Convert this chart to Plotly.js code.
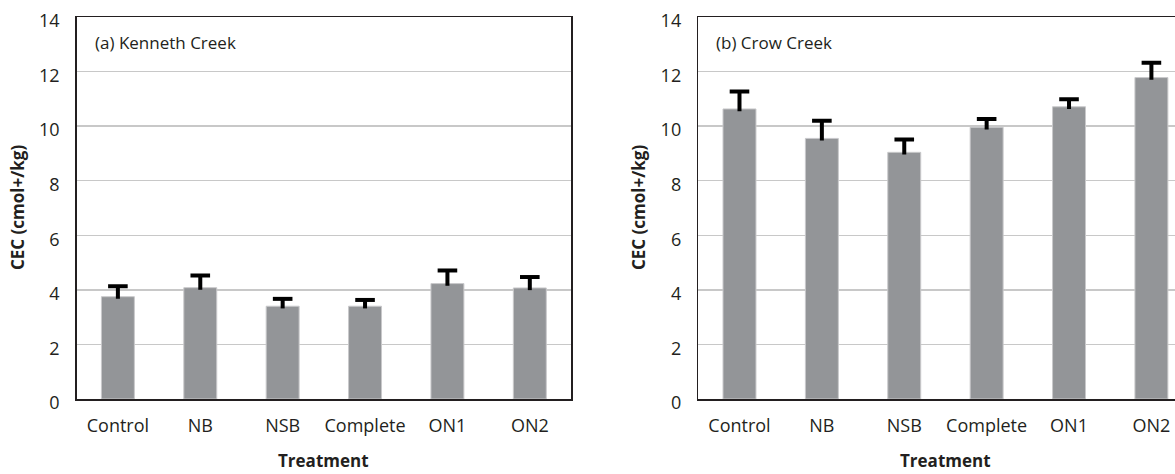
<!DOCTYPE html>
<html>
<head>
<meta charset="utf-8">
<script src="https://cdn.plot.ly/plotly-3.0.1.min.js"></script>
<style>
  html, body { margin: 0; padding: 0; background: #fff; overflow: hidden; width: 1175px; height: 474px; }
  #chart { width: 1200px; height: 474px; }
</style>
</head>
<body>
<div id="chart"></div>
<script>
// Data
const treatments = ["Control", "NB", "NSB", "Complete", "ON1", "ON2"];
const kennethCEC = [3.75, 4.08, 3.40, 3.40, 4.23, 4.07];
const kennethErr = [0.38, 0.45, 0.27, 0.23, 0.48, 0.40];
const crowCEC = [10.63, 9.55, 9.04, 9.96, 10.71, 11.78];
const crowErr = [0.64, 0.65, 0.47, 0.30, 0.28, 0.54];
const yTicks = [0, 2, 4, 6, 8, 10, 12, 14];
const panelLabels = ["(a) Kenneth Creek", "(b) Crow Creek"];
const xTitle = "Treatment";
const yTitle = "CEC (cmol+/kg)";

const W = 1200;
const FONT = "Open Sans, Noto Sans, sans-serif";
const barColor = "#939598";
const ink = "#231f20";

function barTrace(vals, errs, xa, ya) {
  return {
    type: "bar",
    x: treatments,
    y: vals,
    xaxis: xa,
    yaxis: ya,
    marker: { color: barColor, line: { color: "#c9c9cb", width: 1 } },
    error_y: {
      type: "data",
      symmetric: false,
      array: errs,
      arrayminus: errs.map(() => 0.08),
      color: "#000000",
      thickness: 4,
      width: 0
    },
    hoverinfo: "x+y",
    showlegend: false
  };
}
// cap of each (upper-only) error bar, placed at mean + error
function capTrace(vals, errs, xa, ya) {
  return {
    type: "scatter",
    mode: "markers",
    x: treatments,
    y: vals.map((v, i) => v + errs[i]),
    xaxis: xa,
    yaxis: ya,
    marker: { symbol: "line-ew", size: 14, line: { color: "#000000", width: 4 } },
    hoverinfo: "skip",
    showlegend: false
  };
}

const data = [
  barTrace(kennethCEC, kennethErr, "x", "y"),
  capTrace(kennethCEC, kennethErr, "x", "y"),
  barTrace(crowCEC, crowErr, "x2", "y2"),
  capTrace(crowCEC, crowErr, "x2", "y2")
];

function xAxis(domain) {
  return {
    domain: domain,
    type: "category",
    showline: true,
    mirror: true,
    linecolor: ink,
    linewidth: 1.5,
    showgrid: false,
    ticks: "",
    ticklabelstandoff: 10,
    tickfont: { family: FONT, size: 18, color: ink },
    fixedrange: true
  };
}
function yAxis(anchor) {
  return {
    anchor: anchor,
    range: [0, 14],
    tickvals: yTicks,
    ticktext: yTicks.map(String),
    showline: true,
    mirror: true,
    linecolor: ink,
    linewidth: 1.5,
    showgrid: true,
    gridcolor: "#c8c8c8",
    gridwidth: 1.5,
    zeroline: false,
    ticks: "",
    ticklabelstandoff: 12,
    ticklabelshift: 4,
    ticklabeloverflow: "allow",
    tickfont: { family: FONT, size: 18, color: ink },
    fixedrange: true
  };
}

const plotTop = 17, plotBottom = 399, plotH = plotBottom - plotTop;
const py = (px) => (plotBottom - px) / plotH;

const x1d = [76.7 / W, 571 / W];
const x2d = [698.3 / W, 1192.6 / W];

const annotations = [
  { text: panelLabels[0], x: 92.7 / W, y: py(42.5), xanchor: "left", yanchor: "middle" },
  { text: panelLabels[1], x: 714 / W, y: py(42.5), xanchor: "left", yanchor: "middle" }
].map(a => Object.assign(a, {
  xref: "paper", yref: "paper", showarrow: false,
  font: { family: FONT, size: 17, color: ink }
}));

[[x1d, 17], [x2d, 638]].forEach(([d, yx]) => {
  annotations.push({
    text: "<b>" + xTitle + "</b>", xref: "paper", yref: "paper",
    x: (d[0] + d[1]) / 2, y: py(473), xanchor: "center", yanchor: "bottom",
    borderpad: 0,
    showarrow: false, font: { family: FONT, size: 17, color: ink }
  });
  annotations.push({
    text: "<b>" + yTitle + "</b>", xref: "paper", yref: "paper",
    x: yx / W, y: 0.5, xanchor: "center", yanchor: "middle", textangle: -90,
    showarrow: false, font: { family: FONT, size: 17, color: ink }
  });
});

const layout = {
  width: W,
  height: 474,
  margin: { l: 0, r: 0, t: plotTop, b: 474 - plotBottom, pad: 0 },
  paper_bgcolor: "#ffffff",
  plot_bgcolor: "#ffffff",
  bargap: 0.6,
  showlegend: false,
  xaxis: xAxis(x1d),
  yaxis: yAxis("x"),
  xaxis2: Object.assign(xAxis(x2d), { anchor: "y2" }),
  yaxis2: yAxis("x2"),
  annotations: annotations
};

Plotly.newPlot("chart", data, layout, { displayModeBar: false, staticPlot: true });
</script>
</body>
</html>
